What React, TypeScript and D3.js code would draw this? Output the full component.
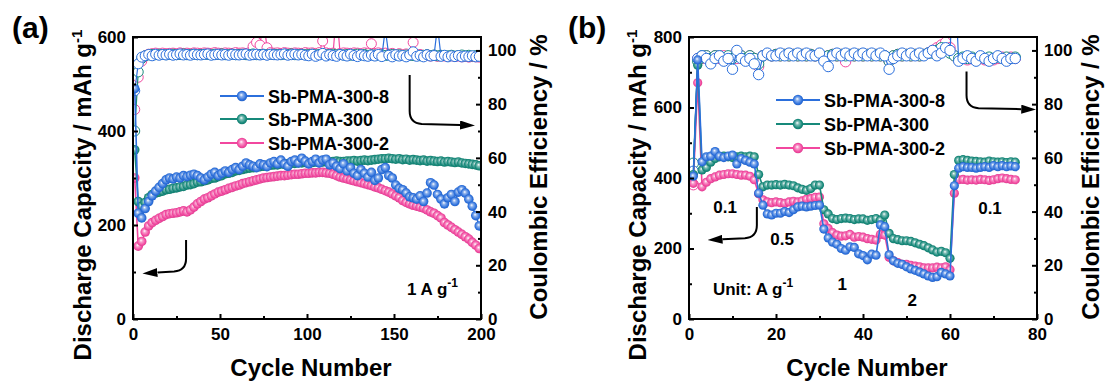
import { useEffect, useRef } from "react";
import * as d3 from "d3";

// ── Series ───────────────────────────────────────────────────────────────────
const NAMES = ["Sb-PMA-300-8", "Sb-PMA-300", "Sb-PMA-300-2"];
const COLORS = ["#2b6fdc", "#16897a", "#f2479f"];
const FONT = "'Liberation Sans', Arial, sans-serif";

// ── (a) cycling at 1 A g-1, read every second cycle (1, 3, 5 … 199) ─────────
const A_CYCLES = d3.range(1, 200, 2);
const A_CAP_8 = [
  490, 225, 215, 235, 250, 262, 272, 280, 288, 296,
  300, 298, 302, 300, 305, 303, 306, 308, 305, 300,
  296, 302, 308, 312, 305, 310, 315, 312, 318, 322,
  318, 325, 332, 328, 325, 322, 330, 328, 324, 332,
  335, 330, 338, 330, 325, 335, 338, 332, 342, 336,
  330, 335, 340, 332, 338, 340, 328, 332, 325, 320,
  330, 315, 322, 310, 305, 318, 310, 302, 312, 295,
  300, 318, 322, 305, 300, 285, 278, 275, 268, 260,
  258, 255, 262, 250, 268, 290, 285, 265, 255, 245,
  258, 265, 250, 270, 275, 268, 255, 240, 220, 198,
];
const A_CAP_300 = [
  360, 250, 240, 248, 258, 265, 268, 270, 272, 275,
  276, 278, 279, 281, 282, 285, 286, 288, 291, 292,
  294, 296, 299, 300, 303, 305, 309, 310, 312, 315,
  316, 318, 320, 321, 322, 324, 324, 325, 327, 327,
  328, 328, 330, 329, 330, 331, 331, 332, 332, 333,
  332, 333, 334, 333, 334, 335, 334, 335, 336, 335,
  335, 336, 336, 337, 336, 337, 338, 337, 338, 339,
  340, 341, 341, 342, 341, 340, 341, 339, 340, 338,
  339, 338, 337, 338, 336, 337, 336, 335, 336, 334,
  335, 334, 333, 334, 332, 331, 330, 329, 328, 326,
];
const A_CAP_2 = [
  300, 155, 165, 185, 198, 205, 210, 214, 218, 222,
  224, 225, 226, 228, 230, 228, 232, 238, 245, 250,
  255, 258, 262, 266, 270, 272, 275, 278, 280, 283,
  285, 288, 290, 292, 294, 296, 298, 300, 301, 302,
  303, 304, 305, 305, 306, 307, 308, 308, 309, 310,
  310, 311, 311, 312, 312, 311, 310, 308, 305, 302,
  300, 298, 296, 294, 292, 290, 288, 286, 284, 281,
  279, 276, 273, 270, 266, 262, 258, 252, 248, 245,
  242, 240, 238, 236, 232, 228, 225, 220, 215, 205,
  200, 195, 190, 185, 180, 175, 170, 163, 157, 150,
];
const A_CE_8 = [
  85, 95, 97.5, 98, 98.5, 98, 98.6, 98.2, 98.5, 98.3,
  98.6, 98.2, 98.4, 98.7, 98.3, 98.5, 98.2, 98.6, 98.4, 98.3,
  98.5, 98.7, 98.2, 98.4, 98.6, 98.3, 98.5, 98.2, 98.6, 98.4,
  98.3, 98.5, 98.7, 98.2, 98.4, 98.6, 98.3, 98.5, 98.2, 98.6,
  98.4, 98.3, 98.5, 98.7, 98.2, 98.4, 98.6, 98.3, 98.5, 98.2,
  98.0, 98.6, 97.8, 98.3, 98.9, 97.9, 98.4, 98.1, 97.8, 98.5,
  98.2, 97.9, 98.6, 98.1, 97.7, 98.4, 98.0, 97.8, 98.3, 97.9,
  98.5, 97.7, 108, 98.2, 97.6, 98.4, 97.9, 98.1, 97.6, 98.3,
  99.5, 97.8, 98.2, 97.6, 98.4, 97.9, 98.1, 109, 97.8, 98.2,
  97.6, 98.0, 97.7, 98.1, 97.6, 97.9, 97.7, 98.0, 97.6, 97.8,
];
const A_CE_300 = [
  70, 92, 97, 98, 98.3, 98.5, 98.4, 98.6, 98.5, 98.4,
  98.5, 98.6, 98.4, 98.5, 98.7, 98.4, 98.5, 98.6, 98.4, 98.5,
  98.6, 98.5, 98.4, 98.6, 98.5, 98.7, 98.4, 98.5, 98.6, 98.4,
  98.5, 98.6, 98.4, 98.5, 98.7, 98.4, 98.5, 98.6, 98.4, 98.5,
  98.6, 98.5, 98.4, 98.6, 98.5, 98.7, 98.4, 98.5, 98.6, 98.4,
  98.5, 98.6, 98.4, 98.5, 98.7, 98.4, 98.5, 98.6, 98.4, 98.5,
  98.3, 98.5, 98.2, 98.4, 98.6, 98.3, 98.5, 98.2, 98.4, 98.3,
  98.2, 98.4, 98.1, 98.3, 98.5, 98.2, 98.4, 98.1, 98.3, 98.2,
  98.1, 98.3, 98.0, 98.2, 98.4, 98.1, 98.3, 98.0, 98.2, 98.1,
  98.0, 98.2, 97.9, 98.1, 98.3, 98.0, 98.2, 97.9, 98.1, 98.0,
];
const A_CE_2 = [
  78, 90, 96, 98, 98.6, 98.8, 99, 98.7, 99, 98.8,
  98.9, 99, 98.8, 99.1, 98.9, 99, 98.8, 99.1, 99, 98.9,
  99.1, 99, 98.9, 99.2, 99, 98.9, 99.1, 99, 98.9, 99.2,
  99, 99.1, 98.9, 99.2, 101.5, 103, 102, 112, 101, 99.2,
  99, 99.1, 98.9, 99.2, 99, 98.9, 99.1, 99, 98.9, 99.2,
  99, 99.1, 98.9, 99.2, 103.5, 99.1, 98.9, 99, 115, 98.9,
  99.1, 99, 98.9, 99.1, 99, 98.8, 99.1, 99, 102.5, 98.9,
  99.1, 98.8, 99, 98.6, 98.9, 98.5, 98.8, 98.4, 98.7, 98.3,
  103, 98.2, 98.5, 98.0, 98.3, 97.9, 98.2, 97.8, 98.1, 97.9,
  97.8, 98.0, 97.7, 97.9, 97.6, 97.8, 97.5, 97.7, 97.6, 97.5,
];

// ── (b) rate test, cycles 1 … 75 ─────────────────────────────────────────────
const B_CYCLES = d3.range(1, 76);
const B_CAP_8 = [
  405, 735, 446, 460, 462, 475, 462, 458, 462, 465, 440, 455, 450, 445, 440,
  357, 323, 298, 295, 300, 300, 305, 302, 310, 318, 320, 318, 320, 322, 323,
  255, 230, 218, 212, 200, 195, 205, 203, 185, 180, 168, 184, 181, 267, 262,
  182, 165, 158, 155, 148, 142, 138, 133, 128, 122, 118, 120, 132, 128, 122,
  378, 428, 432, 430, 430, 428, 430, 432, 430, 435, 432, 435, 432, 434, 432,
];
const B_CAP_300 = [
  410, 720, 423, 430, 445, 455, 460, 462, 460, 458, 460, 462, 460, 462, 460,
  410, 375, 380, 380, 381, 380, 382, 380, 378, 372, 368, 365, 370, 380, 380,
  310, 298, 285, 282, 285, 286, 285, 282, 284, 284, 280, 282, 285, 280, 295,
  243, 228, 225, 222, 222, 220, 216, 212, 208, 202, 196, 190, 192, 188, 172,
  410, 450, 452, 450, 448, 447, 446, 445, 448, 446, 445, 446, 444, 446, 445,
];
const B_CAP_2 = [
  385, 670, 375, 388, 398, 403, 408, 410, 412, 412, 410, 408, 408, 405, 395,
  355, 338, 332, 330, 332, 330, 328, 332, 334, 332, 335, 340, 342, 345, 346,
  270, 257, 245, 238, 235, 236, 240, 232, 234, 232, 228, 226, 224, 240, 238,
  175, 165, 160, 155, 155, 152, 150, 148, 145, 145, 145, 147, 145, 148, 140,
  357, 395, 396, 394, 395, 394, 396, 395, 393, 395, 398, 400, 398, 396, 395,
];
const B_CE_8 = [
  55, 97, 98, 97, 95, 97, 98, 96, 97, 93, 100, 97, 96, 97, 95,
  91, 98, 99, 98, 98, 99, 98, 99, 98, 99, 98, 99, 98, 98, 99,
  96, 94, 98, 99, 98, 99, 98, 99, 98, 99, 98, 99, 98, 99, 98,
  93, 97, 98, 99, 98, 99, 98, 99, 98, 99, 100, 98, 99, 101, 100,
  130, 96, 97, 98, 97, 96, 98, 97, 96, 97, 98, 97, 96, 97, 97,
];
const B_CE_300 = [
  58, 96, 98, 98, 97, 98, 98, 97, 98, 97, 98, 98, 97, 98, 97,
  95, 98, 98.5, 98, 98.5, 98, 98.5, 98, 98.5, 98, 98.5, 98, 98.5, 98, 98.5,
  97, 98, 98.5, 98, 98.5, 98, 98.5, 98, 98.5, 98, 98.5, 98, 98.5, 98, 98,
  96, 98, 98.5, 98, 98.5, 98, 98.5, 98, 98.5, 99, 99, 100, 101, 100, 99,
  98, 97, 97.5, 97, 97.5, 97, 97.5, 97, 97.5, 97, 97.5, 97, 97.5, 97, 97.5,
];
const B_CE_2 = [
  50, 97, 97, 98, 97, 98, 97, 98, 97, 98, 97, 98, 97, 98, 97,
  94, 98, 98.5, 98, 98.5, 98, 98.5, 98, 98.5, 98, 98.5, 98, 98.5, 98, 98.5,
  97, 98, 98.5, 98, 98.5, 95.8, 98.5, 98, 98.5, 98, 98.5, 98, 98.5, 98, 98,
  96, 98, 98.5, 98, 98.5, 98, 98.5, 98, 98.5, 99, 100, 101, 102, 103, 101,
  98, 96.5, 97, 96.5, 97, 96.5, 97, 96.5, 97, 96.5, 97, 97.5, 97, 97.5, 97,
];

// ── Layout ───────────────────────────────────────────────────────────────────
const TOP = 37;
const BOTTOM = 319;
const PW = 348;

interface Note { text: string; sup?: string; x: number; y: number; anchor?: string }
interface Arrow { x0: number; y0: number; yTip: number; xTip: number }
interface Panel {
  key: string; tag: string; tagX: number; left: number;
  xMax: number; xTicks: number[]; xMinor: number[];
  yMax: number; yTicks: number[]; yMinor: number[];
  cycles: number[]; cap: number[][]; ce: number[][];
  r: number; rCe: number;
  legendY: number[]; yTitleX: number; ceTitleX: number;
  notes: Note[]; arrows: Arrow[];
}

const PANELS: Panel[] = [
  {
    key: "a", tag: "(a)", tagX: 12, left: 133,
    xMax: 200, xTicks: [0, 50, 100, 150, 200], xMinor: [25, 75, 125, 175],
    yMax: 600, yTicks: [0, 200, 400, 600], yMinor: [100, 300, 500],
    cycles: A_CYCLES, cap: [A_CAP_8, A_CAP_300, A_CAP_2], ce: [A_CE_8, A_CE_300, A_CE_2],
    r: 4.8, rCe: 5,
    legendY: [59, 82, 106], yTitleX: 91, ceTitleX: 547,
    notes: [{ text: "1 A g", sup: "-1", x: 157.5, y: 51, anchor: "start" }],
    arrows: [
      { x0: 30.5, y0: 168, yTip: 103, xTip: 6 },
      { x0: 159, y0: 519, yTip: 417, xTip: 196 },
    ],
  },
  {
    key: "b", tag: "(b)", tagX: 568, left: 689,
    xMax: 80, xTicks: [0, 20, 40, 60, 80], xMinor: [10, 30, 50, 70],
    yMax: 800, yTicks: [0, 200, 400, 600, 800], yMinor: [100, 300, 500, 700],
    cycles: B_CYCLES, cap: [B_CAP_8, B_CAP_300, B_CAP_2], ce: [B_CE_8, B_CE_300, B_CE_2],
    r: 4.6, rCe: 5.2,
    legendY: [63, 87, 111], yTitleX: 646, ceTitleX: 1099,
    notes: [
      { text: "0.1", x: 8.3, y: 300 },
      { text: "0.5", x: 21.4, y: 210 },
      { text: "1", x: 35.2, y: 82 },
      { text: "2", x: 51.3, y: 37 },
      { text: "0.1", x: 69.2, y: 298 },
      { text: "Unit: A g", sup: "-1", x: 5.5, y: 68, anchor: "start" },
    ],
    arrows: [
      { x0: 15.6, y0: 318, yTip: 232, xTip: 4.5 },
      { x0: 63.8, y0: 702, yTip: 601, xTip: 79.6 },
    ],
  },
];

type Sel = d3.Selection<any, any, any, any>;

function boldText(sel: Sel, size: number) {
  return sel.attr("font-family", FONT).attr("font-weight", "bold")
    .attr("font-size", size).attr("fill", "#000");
}

function styleAxis(ax: Sel) {
  ax.select(".domain").remove();
  ax.selectAll(".tick line").attr("stroke", "#000").attr("stroke-width", 2);
  boldText(ax.selectAll(".tick text"), 17);
}

function drawPanel(svg: Sel, defs: Sel, p: Panel) {
  const x = d3.scaleLinear().domain([0, p.xMax]).range([p.left, p.left + PW]);
  const y = d3.scaleLinear().domain([0, p.yMax]).range([BOTTOM, TOP]);
  const yCe = d3.scaleLinear().domain([0, 105]).range([BOTTOM, TOP]);

  defs.append("clipPath").attr("id", `clip-${p.key}`).append("rect")
    .attr("x", p.left).attr("y", TOP).attr("width", PW).attr("height", BOTTOM - TOP);
  const plot = svg.append("g").attr("clip-path", `url(#clip-${p.key})`);

  const order = [2, 1, 0];

  // ── Coulombic efficiency (open circles) ───────────────────────────────
  order.forEach(i => {
    const pts = p.cycles.map((c, k) => [c, p.ce[i][k]] as [number, number]);
    plot.append("path").datum(pts)
      .attr("d", d3.line<[number, number]>().x(d => x(d[0])).y(d => yCe(d[1])))
      .attr("fill", "none").attr("stroke", COLORS[i]).attr("stroke-width", 1.2);
    plot.append("g").selectAll("circle").data(pts).join("circle")
      .attr("cx", d => x(d[0])).attr("cy", d => yCe(d[1])).attr("r", p.rCe)
      .attr("fill", "#fff").attr("stroke", COLORS[i]).attr("stroke-width", 1);
  });

  // ── Discharge capacity (shaded balls) ─────────────────────────────────
  order.forEach(i => {
    const pts = p.cycles.map((c, k) => [c, p.cap[i][k]] as [number, number]);
    plot.append("path").datum(pts)
      .attr("d", d3.line<[number, number]>().x(d => x(d[0])).y(d => y(d[1])))
      .attr("fill", "none").attr("stroke", COLORS[i]).attr("stroke-width", 1.6);
    plot.append("g").selectAll("circle").data(pts).join("circle")
      .attr("cx", d => x(d[0])).attr("cy", d => y(d[1])).attr("r", p.r)
      .attr("fill", `url(#ball${i})`);
  });

  // ── Axes (ticks inward) ───────────────────────────────────────────────
  svg.append("g").attr("transform", `translate(0,${BOTTOM})`)
    .call(d3.axisBottom(x).tickValues(p.xTicks).tickSizeInner(-5).tickSizeOuter(0).tickPadding(9))
    .call(styleAxis);
  svg.append("g").attr("transform", `translate(0,${BOTTOM})`)
    .call(d3.axisBottom(x).tickValues(p.xMinor).tickFormat(() => "").tickSizeInner(-3).tickSizeOuter(0))
    .call(styleAxis);
  svg.append("g").attr("transform", `translate(${p.left},0)`)
    .call(d3.axisLeft(y).tickValues(p.yTicks).tickSizeInner(-5).tickSizeOuter(0).tickPadding(7))
    .call(styleAxis);
  svg.append("g").attr("transform", `translate(${p.left},0)`)
    .call(d3.axisLeft(y).tickValues(p.yMinor).tickFormat(() => "").tickSizeInner(-3).tickSizeOuter(0))
    .call(styleAxis);
  svg.append("g").attr("transform", `translate(${p.left + PW},0)`)
    .call(d3.axisRight(yCe).tickValues([0, 20, 40, 60, 80, 100]).tickSizeInner(-5).tickSizeOuter(0).tickPadding(7))
    .call(styleAxis);
  svg.append("g").attr("transform", `translate(${p.left + PW},0)`)
    .call(d3.axisRight(yCe).tickValues([10, 30, 50, 70, 90]).tickFormat(() => "").tickSizeInner(-3).tickSizeOuter(0))
    .call(styleAxis);

  svg.append("rect").attr("x", p.left).attr("y", TOP).attr("width", PW).attr("height", BOTTOM - TOP)
    .attr("fill", "none").attr("stroke", "#000").attr("stroke-width", 2);

  // ── Titles ────────────────────────────────────────────────────────────
  boldText(svg.append("text"), 30).attr("x", p.tagX).attr("y", 38).text(p.tag);
  boldText(svg.append("text"), 24).attr("x", p.left + PW / 2 + 4).attr("y", 376)
    .attr("text-anchor", "middle").text("Cycle Number");

  const yt = boldText(svg.append("text"), 24).attr("text-anchor", "middle")
    .attr("transform", `translate(${p.yTitleX},195) rotate(-90)`);
  yt.append("tspan").text("Discharge Capacity / mAh g");
  yt.append("tspan").attr("font-size", 15).attr("dy", -9).text("-1");

  boldText(svg.append("text"), 24).attr("text-anchor", "middle")
    .attr("transform", `translate(${p.ceTitleX},177) rotate(-90)`)
    .text("Coulombic Efficiency / %");

  // ── Legend ────────────────────────────────────────────────────────────
  const lx = p.left + 87;
  NAMES.forEach((name, i) => {
    const ly = TOP + p.legendY[i];
    svg.append("line").attr("x1", lx).attr("x2", lx + 44).attr("y1", ly).attr("y2", ly)
      .attr("stroke", COLORS[i]).attr("stroke-width", 2.2);
    svg.append("circle").attr("cx", lx + 22).attr("cy", ly).attr("r", 5.2).attr("fill", `url(#ball${i})`);
    boldText(svg.append("text"), 18).attr("x", lx + 48).attr("y", ly + 6.5).text(name);
  });

  // ── Annotations ───────────────────────────────────────────────────────
  p.notes.forEach(n => {
    const t = boldText(svg.append("text"), 17).attr("x", x(n.x)).attr("y", y(n.y))
      .attr("text-anchor", n.anchor ?? "middle");
    t.append("tspan").text(n.text);
    if (n.sup) t.append("tspan").attr("font-size", 12).attr("dy", -8).text(n.sup);
  });

  p.arrows.forEach(a => {
    const X0 = x(a.x0), Y0 = y(a.y0), YT = y(a.yTip), XT = x(a.xTip);
    const dir = XT > X0 ? 1 : -1;
    const R = 12;
    const d = `M${X0},${Y0} L${X0},${YT - R} Q${X0},${YT} ${X0 + dir * R},${YT + 1} L${XT - dir * 14},${YT + 2}`;
    svg.append("path").attr("d", d).attr("fill", "none").attr("stroke", "#000")
      .attr("stroke-width", 2).attr("marker-end", "url(#arrowhead)");
  });
}

export default function App() {
  const ref = useRef<SVGSVGElement>(null);

  useEffect(() => {
    const svg = d3.select(ref.current);
    svg.selectAll("*").remove();
    const defs = svg.append("defs");

    COLORS.forEach((c, i) => {
      const g = defs.append("radialGradient").attr("id", `ball${i}`)
        .attr("cx", "50%").attr("cy", "50%").attr("r", "55%").attr("fx", "42%").attr("fy", "38%");
      g.append("stop").attr("offset", "0%").attr("stop-color", "#ffffff");
      g.append("stop").attr("offset", "30%").attr("stop-color", d3.interpolateRgb(c, "#ffffff")(0.45));
      g.append("stop").attr("offset", "75%").attr("stop-color", c);
      g.append("stop").attr("offset", "100%").attr("stop-color", d3.color(c)!.darker(0.4).formatHex());
    });

    defs.append("marker").attr("id", "arrowhead")
      .attr("viewBox", "0 0 10 10").attr("refX", 0).attr("refY", 5)
      .attr("markerWidth", 15).attr("markerHeight", 9)
      .attr("markerUnits", "userSpaceOnUse").attr("orient", "auto")
      .attr("preserveAspectRatio", "none")
      .append("path").attr("d", "M0,0 L10,5 L0,10 Z").attr("fill", "#000");

    PANELS.forEach(p => drawPanel(svg, defs, p));
  }, []);

  return (
    <svg ref={ref} width={1107} height={385}
      style={{ position: "absolute", left: 0, top: 0, background: "#fff" }} />
  );
}
